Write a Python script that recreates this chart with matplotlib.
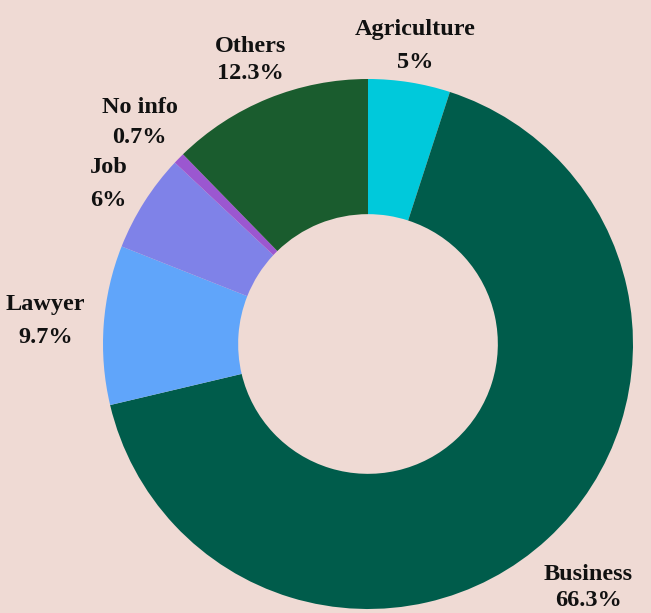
import matplotlib.pyplot as plt
import numpy as np

labels = ["Agriculture", "Business", "Lawyer", "Job", "No info", "Others"]
values = [5, 66.3, 9.7, 6, 0.7, 12.3]
pct_text = ["5%", "66.3%", "9.7%", "6%", "0.7%", "12.3%"]
colors = ["#00C9DB", "#005C4B", "#60A5FA", "#7F82E8", "#9B57D0", "#1A5C2E"]

bg = "#EFDAD4"
fig = plt.figure(figsize=(6.51, 6.13), dpi=100, facecolor=bg)
ax = fig.add_axes([0, 0, 1, 1])
ax.set_facecolor(bg)

cx, cy, R = 368, 613 - 344, 265
wedges, _ = ax.pie(values, colors=colors, startangle=90, counterclock=False,
                   center=(cx, cy), radius=R, wedgeprops=dict(width=R * 0.51, linewidth=0))

# label distance (in radii), angle nudge and line spacing per slice
dist = [1.14, 1.24, 1.22, 1.15, 1.2, 1.16]
nudge = [0, -0.5, 0, 0.8, 0.4, 0.4]
lsp = [1.75, 1.3, 1.75, 1.75, 1.55, 1.35]
for w, lab, p, d, n, ls in zip(wedges, labels, pct_text, dist, nudge, lsp):
    ang = np.deg2rad((w.theta1 + w.theta2) / 2 + n)
    x = cx + d * R * np.cos(ang)
    y = cy + d * R * np.sin(ang)
    ax.text(x, y, lab + "\n" + p, ha="center", va="center", fontsize=17.5,
            fontweight="bold", family="Liberation Serif", linespacing=ls, color="#111111")

ax.set_xlim(0, 651)
ax.set_ylim(0, 613)
ax.set_aspect("auto")
ax.axis("off")

fig.savefig("out.png", dpi=100, facecolor=bg)
